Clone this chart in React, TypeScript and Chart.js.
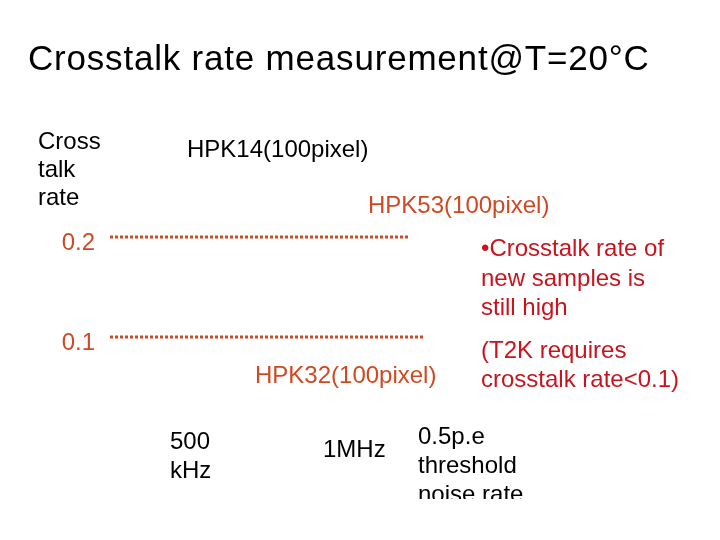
import React, { useEffect, useRef } from "react";
import { Chart, registerables } from "chart.js";

Chart.register(...registerables);

const ORANGE = "#cf4a22";
const RED = "#c8141e";
const FONT = "'Liberation Sans', Arial, sans-serif";

const title = "Crosstalk rate measurement@T=20°C";
const yAxisTitle = ["Cross", "talk", "rate"];
const yTicks = [0.1, 0.2];
const levelValues = [0.2, 0.1];
const levelStart = [0, 0];
const levelEnd = [0.5, 0.522];
const sampleLabels = ["HPK14(100pixel)", "HPK53(100pixel)", "HPK32(100pixel)"];
const xLabels = [["500", "kHz"], ["1MHz"], ["0.5p.e", "threshold", "noise rate"]];
const noteLines = ["•Crosstalk rate of", "new samples is", "still high"];
const requireLines = ["(T2K requires", "crosstalk rate<0.1)"];

function Txt(props: { left: number; top: number; lines: string[]; color?: string; lh?: number; size?: number; height?: number; ls?: number }) {
  const { left, top, lines, color = "#000", lh = 29, size = 24, height, ls = 0 } = props;
  return (
    <div
      style={{
        position: "absolute",
        left,
        top,
        color,
        fontFamily: FONT,
        fontSize: size,
        lineHeight: lh + "px",
        letterSpacing: ls,
        whiteSpace: "nowrap",
        overflow: height ? "hidden" : "visible",
        height: height,
      }}
    >
      {lines.map((l, i) => (
        <div key={i}>{l}</div>
      ))}
    </div>
  );
}

export default function App() {
  const ref = useRef<HTMLCanvasElement | null>(null);
  useEffect(() => {
    if (!ref.current) return;
    const chart = new Chart(ref.current, {
      type: "line",
      data: {
        datasets: levelValues.map((v, i) => ({
          data: [
            { x: levelStart[i], y: v },
            { x: levelEnd[i], y: v },
          ],
          borderColor: ORANGE,
          borderWidth: 3,
          borderDash: [3, 2],
          borderCapStyle: "butt" as const,
          pointRadius: 0,
          fill: false,
        })),
      },
      options: {
        animation: false,
        responsive: false,
        layout: { padding: { top: 137, bottom: 103, left: 0, right: 10 } },
        plugins: { legend: { display: false }, tooltip: { enabled: false } },
        scales: {
          x: { type: "linear", min: 0, max: 1, display: false },
          y: {
            type: "linear",
            min: 0,
            max: 0.3,
            grid: { display: false, drawTicks: false },
            border: { display: false },
            afterFit: (s: any) => {
              s.width = 110;
            },
            afterBuildTicks: (s: any) => {
              s.ticks = yTicks.map((v) => ({ value: v }));
            },
            ticks: {
              color: ORANGE,
              font: { family: FONT, size: 24 },
              padding: 15,
              labelOffset: 6,
              callback: (v: any) => Number(v).toFixed(1),
            },
          },
        },
      },
    });
    return () => chart.destroy();
  }, []);

  return (
    <div style={{ position: "absolute", left: 0, top: 0, width: 720, height: 540, background: "#fff", overflow: "hidden" }}>
      <canvas ref={ref} width={720} height={540} style={{ position: "absolute", left: 0, top: 0 }} />
      <Txt left={28} top={40} lines={[title]} size={35} lh={35} ls={0.8} />
      <Txt left={38} top={127} lines={yAxisTitle} lh={28} />
      <Txt left={187} top={134} lines={[sampleLabels[0]]} />
      <Txt left={368} top={190} lines={[sampleLabels[1]]} color={ORANGE} />
      <Txt left={255} top={360} lines={[sampleLabels[2]]} color={ORANGE} />
      <Txt left={481} top={233} lines={noteLines} color={RED} lh={29.5} />
      <Txt left={481} top={335} lines={requireLines} color={RED} />
      <Txt left={170} top={426} lines={xLabels[0]} />
      <Txt left={323} top={434} lines={xLabels[1]} />
      <Txt left={418} top={421} lines={xLabels[2]} height={78} />
    </div>
  );
}
